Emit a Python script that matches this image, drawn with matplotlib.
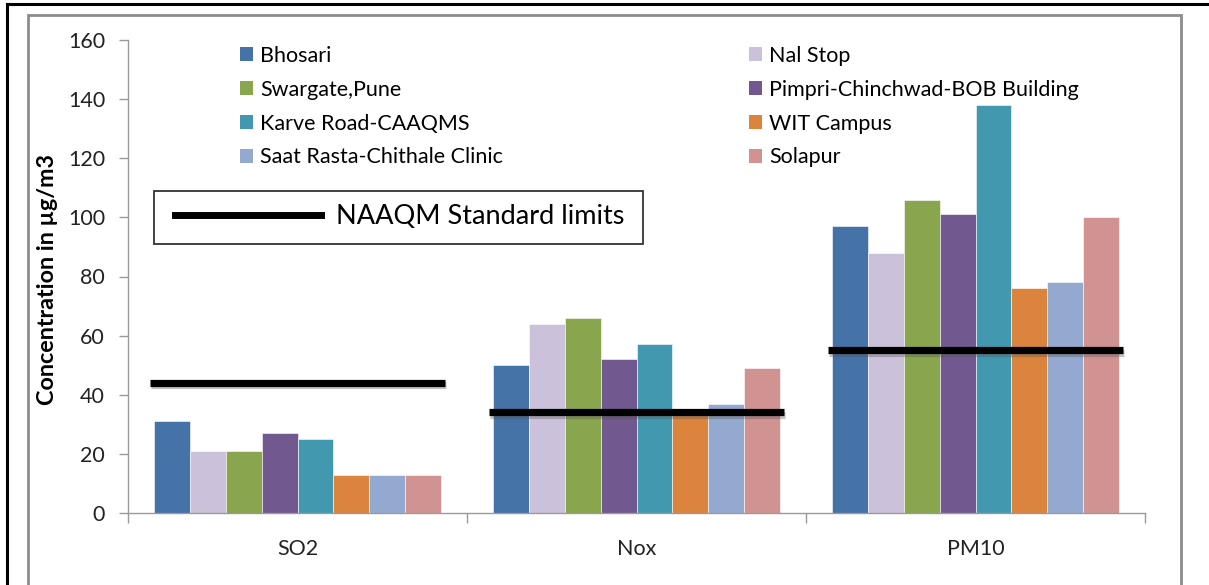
import matplotlib
matplotlib.use("Agg")
import matplotlib.pyplot as plt
import matplotlib.patheffects as pe
from matplotlib.patches import Rectangle, Patch
from matplotlib.lines import Line2D
import numpy as np

plt.rcParams['font.family'] = ['Lato', 'DejaVu Sans']

# Pollutants on the x axis
pollutants = ["SO2", "Nox", "PM10"]

# Monitoring stations (series)
stations = [
    "Bhosari", "Nal Stop", "Swargate,Pune", "Pimpri-Chinchwad-BOB Building",
    "Karve Road-CAAQMS", "WIT Campus", "Saat Rasta-Chithale Clinic", "Solapur",
]

# Concentrations (µg/m3) per station: [SO2, Nox, PM10]
bhosari = [31, 50, 97]
nal_stop = [21, 64, 88]
swargate = [21, 66, 106]
pimpri = [27, 52, 101]
karve_road = [25, 57, 138]
wit_campus = [13, 35, 76]
saat_rasta = [13, 37, 78]
solapur = [13, 49, 100]

# NAAQM standard limits per pollutant
standard_limits = [44, 34, 55]

series = [bhosari, nal_stop, swargate, pimpri, karve_road, wit_campus, saat_rasta, solapur]
colors = ["#4572A7", "#CCC1DA", "#89A54E", "#71588F",
          "#4198AF", "#DB843D", "#93A9CF", "#D19392"]

W, H = 1209, 585
fig = plt.figure(figsize=(W / 100, H / 100), dpi=100)
ax = fig.add_axes([128 / W, 1 - 513 / H, (1145 - 128) / W, (513 - 40) / H])

x = np.arange(len(pollutants))
bw = 0.1055
n = len(series)
for i, (vals, c) in enumerate(zip(series, colors)):
    ax.bar(x + (i - (n - 1) / 2) * bw, vals, width=bw, color=c,
           edgecolor="white", linewidth=0.4, label=stations[i], zorder=2)

# Standard limit lines across each pollutant group
shadow = [pe.SimpleLineShadow(offset=(0.8, -1.6), alpha=0.35, shadow_color="#555555"),
          pe.Normal()]
for xi, lim in zip(x, standard_limits):
    ax.plot([xi - 0.435, xi + 0.435], [lim, lim], color="black", lw=5.2,
            solid_capstyle="butt", zorder=3, path_effects=shadow)

ax.set_xlim(-0.5, 2.5)
ax.set_ylim(0, 160)
ax.set_yticks(np.arange(0, 161, 20))
ax.tick_params(axis="y", direction="out", length=6.5, width=1, color="#9a9a9a",
               labelsize=15.5, pad=10, labelcolor="#222222")
ax.set_xticks(x)
ax.set_xticklabels(pollutants)
ax.set_xticks([0.5, 1.5, 2.5, -0.5], minor=True)
ax.tick_params(axis="x", which="major", length=0, labelsize=15.5, pad=19,
               labelcolor="#222222")
ax.tick_params(axis="x", which="minor", direction="out", length=7.5, width=1,
               color="#9a9a9a")
for s in ["top", "right"]:
    ax.spines[s].set_visible(False)
for s in ["left", "bottom"]:
    ax.spines[s].set_color("#9a9a9a")
    ax.spines[s].set_linewidth(1)

fig.text(48 / W, 1 - 279 / H, "Concentration in µg/m3", rotation=90,
         fontsize=16.8, fontweight="bold", ha="center", va="center")

# Station legend in two columns
handles = [Patch(facecolor=c, edgecolor="none") for c in colors]
leg_kw = dict(frameon=False, fontsize=15.5, handlelength=0.62, handleheight=0.62,
              handletextpad=0.3, labelspacing=0.64, borderpad=0, borderaxespad=0,
              loc="upper left")
leg1 = fig.legend([handles[i] for i in (0, 2, 4, 6)], [stations[i] for i in (0, 2, 4, 6)],
                  bbox_to_anchor=(240 / W, 1 - 46 / H), **leg_kw)
leg2 = fig.legend([handles[i] for i in (1, 3, 5, 7)], [stations[i] for i in (1, 3, 5, 7)],
                  bbox_to_anchor=(749 / W, 1 - 46 / H), **leg_kw)

# Standard limit legend inside a plain box
fig.patches.append(Rectangle((154 / W, 1 - 244 / H), (643 - 154) / W, (244 - 191) / H,
                             transform=fig.transFigure, facecolor="white",
                             edgecolor="#333333", linewidth=1.3, zorder=4))
std_handle = Line2D([], [], color="black", lw=5)
leg3 = fig.legend([std_handle], ["NAAQM Standard limits"], loc="center left",
                  bbox_to_anchor=(175 / W, 1 - 217 / H), fontsize=19.5,
                  handlelength=5.4, handletextpad=0.55, borderpad=0,
                  borderaxespad=0, frameon=False)
leg3.set_zorder(5)

# Chart area frame and outer border
fig.patches.append(Rectangle((28 / W, -0.02), (1181 - 28) / W, (H - 15) / H + 0.02,
                             transform=fig.transFigure, fill=False,
                             edgecolor="#8c8c8c", linewidth=2))
fig.lines.append(Line2D([7 / W, 7 / W], [0, 1 - 4 / H], transform=fig.transFigure,
                        color="black", lw=2.2))
fig.lines.append(Line2D([7 / W, 1], [1 - 4 / H, 1 - 4 / H], transform=fig.transFigure,
                        color="black", lw=2.2))

fig.savefig("out.png", dpi=100)
